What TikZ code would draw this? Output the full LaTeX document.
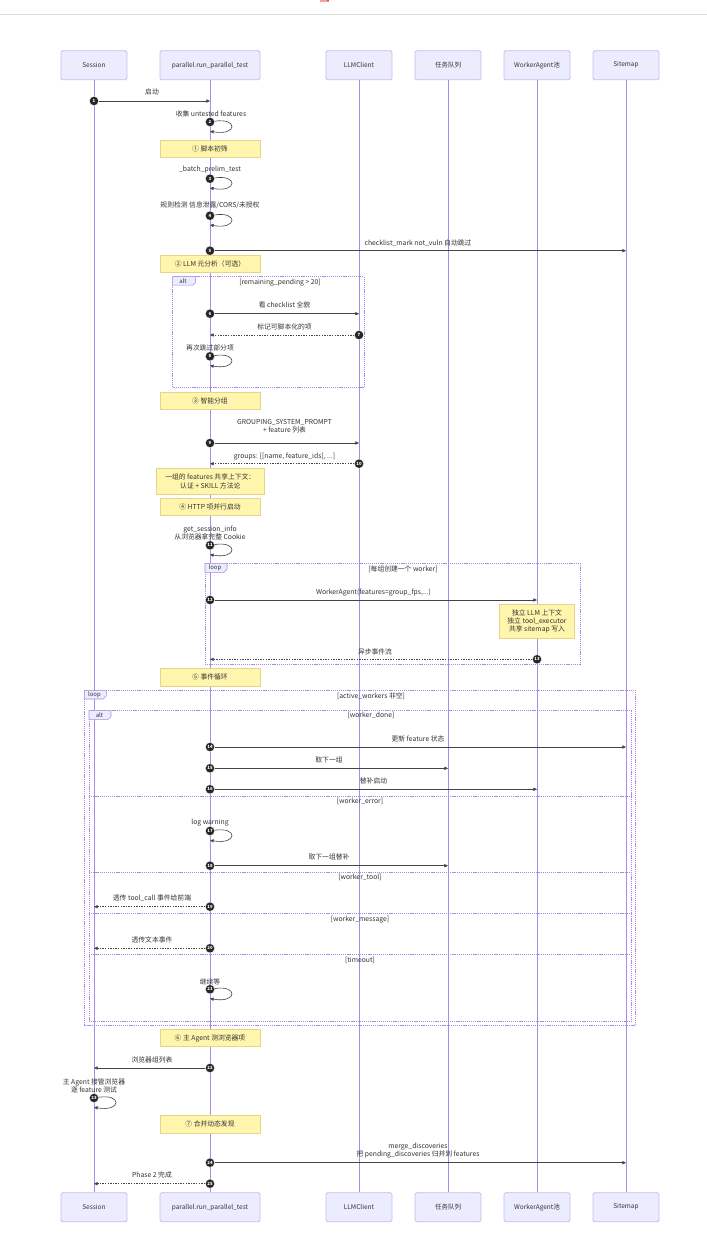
\documentclass[tikz,border=0pt]{standalone}
\usepackage{fontspec}
\setmainfont{Noto Sans CJK SC}
\usetikzlibrary{arrows.meta}
\definecolor{txt}{HTML}{333333}
\definecolor{actfill}{HTML}{ECECFF}
\definecolor{actdraw}{HTML}{C9B9F2}
\definecolor{lifec}{HTML}{A88BEB}
\definecolor{notefill}{HTML}{FFF5AD}
\definecolor{notedraw}{HTML}{E3D688}
\definecolor{framec}{HTML}{A68CE8}
\definecolor{msgc}{HTML}{444444}
\definecolor{topline}{HTML}{DDDDDD}
\definecolor{redmark}{HTML}{F2A0A0}
\definecolor{redmarkd}{HTML}{E04848}
\tikzset{
  lbl/.style={text=txt, font=\fontsize{6.8}{8.4}\selectfont, inner sep=0pt, align=center},
  actor/.style={draw=actdraw, fill=actfill, line width=0.8pt, rounded corners=1.5pt,
    minimum height=29pt, text=txt, font=\fontsize{6.5}{8}\selectfont, inner sep=0pt},
  life/.style={draw=lifec, line width=0.9pt},
  notebox/.style={draw=notedraw, fill=notefill, line width=0.7pt, text=txt,
    font=\fontsize{6.8}{8.4}\selectfont, align=center, inner sep=0pt},
  numc/.style={circle, fill=black!85, draw=white, line width=0.3pt, minimum size=9.2pt, inner sep=0pt,
    text=white, font=\fontsize{4.3}{4.3}\selectfont\bfseries},
  msg/.style={draw=msgc, line width=0.6pt, -{Triangle[length=3.6pt,width=3.2pt]}},
  dmsg/.style={msg, dash pattern=on 1.4pt off 1.2pt},
  frame/.style={draw=framec, line width=0.55pt, dash pattern=on 1.2pt off 0.9pt},
  tab/.style={draw=framec, fill=actfill, line width=0.55pt},
  tabtxt/.style={text=txt, font=\fontsize{6}{7}\selectfont, inner sep=0pt},
}
\begin{document}
\begin{tikzpicture}[x=1pt,y=-1pt]
\useasboundingbox (0,0) rectangle (707,1251);
\fill[white] (0,0) rectangle (707,1251);
% screenshot top rule and mark
\draw[topline, line width=0.8pt] (0,14.3) -- (707,14.3);
\fill[redmark] (320,0) rectangle (329,2.2);
\fill[redmarkd] (327,0) rectangle (329,1.2);

% actors
\node[actor, minimum width=66pt]  (sT) at (94,65.2) {Session};
\node[actor, minimum width=100pt] (pT) at (210,65.2) {parallel.run\_parallel\_test};
\node[actor, minimum width=66pt]  (lT) at (359,65.2) {LLMClient};
\node[actor, minimum width=66pt]  (qT) at (448,65.2) {任务队列};
\node[actor, minimum width=66pt]  (wT) at (537,65.2) {WorkerAgent池};
\node[actor, minimum width=66pt]  (mT) at (626,65.2) {Sitemap};
\node[actor, minimum width=66pt]  (sB) at (94,1207.2) {Session};
\node[actor, minimum width=100pt] (pB) at (210,1207.2) {parallel.run\_parallel\_test};
\node[actor, minimum width=66pt]  (lB) at (359,1207.2) {LLMClient};
\node[actor, minimum width=66pt]  (qB) at (448,1207.2) {任务队列};
\node[actor, minimum width=66pt]  (wB) at (537,1207.2) {WorkerAgent池};
\node[actor, minimum width=66pt]  (mB) at (626,1207.2) {Sitemap};
\draw[life] (sT.south) -- (sB.north);
\draw[life] (pT.south) -- (pB.north);
\draw[life] (lT.south) -- (lB.north);
\draw[life] (qT.south) -- (qB.north);
\draw[life] (wT.south) -- (wB.north);
\draw[life] (mT.south) -- (mB.north);

% frames
\draw[frame] (172.7,276.7) rectangle (364.3,387.3);
\draw[tab] (172.7,276.7) -- (195.7,276.7) -- (195.7,282.2) -- (192.7,285.2) -- (172.7,285.2) -- cycle;
\node[tabtxt] (altA) at (183,281) {alt};
\node[lbl] (condA) at (280,282.7) {[remaining\_pending > 20]};

\draw[frame] (205,563.3) rectangle (580,664);
\draw[tab] (205,563.3) -- (227,563.3) -- (227,569.3) -- (224,572.3) -- (205,572.3) -- cycle;
\node[tabtxt] (loopA) at (215,567.8) {loop};
\node[lbl] (condB) at (403,569) {[每组创建一个 worker]};

\draw[frame] (84.3,690.3) rectangle (635.3,1025.3);
\draw[tab] (84.3,690.3) -- (106.3,690.3) -- (106.3,696) -- (103.3,699) -- (84.3,699) -- cycle;
\node[tabtxt] (loopB) at (94.5,694.6) {loop};
\node[lbl] (condC) at (371,695.7) {[active\_workers 非空]};

\draw[frame] (89,710.7) rectangle (631.3,1021.7);
\draw[tab] (89,710.7) -- (111,710.7) -- (111,716.4) -- (108,719.4) -- (89,719.4) -- cycle;
\node[tabtxt] (altB) at (99.5,715) {alt};
\node[lbl] (condD) at (371,715.3) {[worker\_done]};
\draw[frame] (89,796.3) -- (631.3,796.3);
\node[lbl] (condE) at (360,801.3) {[worker\_error]};
\draw[frame] (89,872.3) -- (631.3,872.3);
\node[lbl] (condF) at (360,877.3) {[worker\_tool]};
\draw[frame] (89,913.3) -- (631.3,913.3);
\node[lbl] (condG) at (360,920) {[worker\_message]};
\draw[frame] (89,954.7) -- (631.3,954.7);
\node[lbl] (condH) at (360,960.3) {[timeout]};

% notes
\node[notebox, minimum width=100pt, minimum height=17.3pt] (n1) at (210,148.7) {① 脚本初筛};
\node[notebox, minimum width=100pt, minimum height=17.3pt] (n2) at (210,263.7) {② LLM 元分析（可选）};
\node[notebox, minimum width=100pt, minimum height=17.3pt] (n3) at (210,400.7) {③ 智能分组};
\node[notebox, minimum width=107.3pt, minimum height=25.3pt] (n3b) at (210.3,481.3) {一组的 features 共享上下文：\\认证 + SKILL 方法论};
\node[notebox, minimum width=100pt, minimum height=17.3pt] (n4) at (210,507) {④ HTTP 项并行启动};
\node[notebox, minimum width=75.4pt, minimum height=34pt] (n4b) at (537,621.3) {独立 LLM 上下文\\独立 tool\_executor\\共享 sitemap 写入};
\node[notebox, minimum width=100pt, minimum height=17.3pt] (n5) at (210,677.3) {⑤ 事件循环};
\node[notebox, minimum width=100pt, minimum height=17.3pt] (n6) at (210,1038) {⑥ 主 Agent 测浏览器项};
\node[notebox, minimum width=100pt, minimum height=17.3pt] (n7) at (210,1124.3) {⑦ 合并动态发现};

% message end points
\coordinate (e1) at (210,101);
\coordinate (e2) at (210,131.3);
\coordinate (e3) at (210,188);
\coordinate (e4) at (210,225);
\coordinate (e5) at (626,250.7);
\coordinate (e6) at (359,313.7);
\coordinate (e7) at (210,335);
\coordinate (e8) at (210,365.6);
\coordinate (e9) at (359,443);
\coordinate (e10) at (210,463.7);
\coordinate (e11) at (210,554.6);
\coordinate (e12) at (537,600);
\coordinate (e13) at (210,659.3);
\coordinate (e14) at (626,747);
\coordinate (e15) at (448,768.3);
\coordinate (e16) at (537,789.3);
\coordinate (e17) at (210,840.3);
\coordinate (e18) at (448,865.7);
\coordinate (e19) at (94,906.7);
\coordinate (e20) at (94,948.3);
\coordinate (e21) at (210,998.6);
\coordinate (e22) at (94,1068);
\coordinate (e23) at (94,1107.3);
\coordinate (e24) at (626,1162.7);
\coordinate (e25) at (94,1183.7);

% number circles
\node[numc] (c1) at (94,101) {1};
\node[numc] (c2) at (210,122) {2};
\node[numc] (c3) at (210,178.7) {3};
\node[numc] (c4) at (210,215.7) {4};
\node[numc] (c5) at (210,250.7) {5};
\node[numc] (c6) at (210,313.7) {6};
\node[numc] (c7) at (359,335) {7};
\node[numc] (c8) at (210,356.3) {8};
\node[numc] (c9) at (210,443) {9};
\node[numc] (c10) at (359,463.7) {10};
\node[numc] (c11) at (210,545.3) {11};
\node[numc] (c12) at (210,600) {12};
\node[numc] (c13) at (537,659.3) {13};
\node[numc] (c14) at (210,747) {14};
\node[numc] (c15) at (210,768.3) {15};
\node[numc] (c16) at (210,789.3) {16};
\node[numc] (c17) at (210,831) {17};
\node[numc] (c18) at (210,865.7) {18};
\node[numc] (c19) at (210,906.7) {19};
\node[numc] (c20) at (210,948.3) {20};
\node[numc] (c21) at (210,989.3) {21};
\node[numc] (c22) at (210,1068) {22};
\node[numc] (c23) at (94,1098) {23};
\node[numc] (c24) at (210,1162.7) {24};
\node[numc] (c25) at (210,1183.7) {25};

% messages
\draw[msg] (c1) -- (e1);
\draw[msg] (c2) .. controls +(28,-4.5) and +(28,4.7) .. (e2);
\draw[msg] (c3) .. controls +(28,-4.5) and +(28,4.7) .. (e3);
\draw[msg] (c4) .. controls +(28,-4.5) and +(28,4.7) .. (e4);
\draw[msg] (c5) -- (e5);
\draw[msg] (c6) -- (e6);
\draw[dmsg] (c7) -- (e7);
\draw[msg] (c8) .. controls +(28,-4.5) and +(28,4.7) .. (e8);
\draw[msg] (c9) -- (e9);
\draw[dmsg] (c10) -- (e10);
\draw[msg] (c11) .. controls +(28,-4.5) and +(28,4.7) .. (e11);
\draw[msg] (c12) -- (e12);
\draw[dmsg] (c13) -- (e13);
\draw[msg] (c14) -- (e14);
\draw[msg] (c15) -- (e15);
\draw[msg] (c16) -- (e16);
\draw[msg] (c17) .. controls +(28,-4.5) and +(28,4.7) .. (e17);
\draw[msg] (c18) -- (e18);
\draw[dmsg] (c19) -- (e19);
\draw[dmsg] (c20) -- (e20);
\draw[msg] (c21) .. controls +(28,-4.5) and +(28,4.7) .. (e21);
\draw[msg] (c22) -- (e22);
\draw[msg] (c23) .. controls +(28,-4.5) and +(28,4.7) .. (e23);
\draw[msg] (c24) -- (e24);
\draw[dmsg] (c25) -- (e25);

% message labels
\node[lbl] (t1) at (152,92) {启动};
\node[lbl] (t2) at (211,114.3) {收集 untested features};
\node[lbl] (t3) at (210,170) {\_batch\_prelim\_test};
\node[lbl] (t4) at (210,205.3) {规则检测 信息泄露/CORS/未授权};
\node[lbl] (t5) at (418,242.7) {checklist\_mark not\_vuln 自动跳过};
\node[lbl] (t6) at (284.5,305) {看 checklist 全貌};
\node[lbl] (t7) at (284.5,326.7) {标记可脚本化的项};
\node[lbl] (t8) at (210,348.3) {再次跳过部分项};
\node[lbl] (t9) at (284.5,426.5) {GROUPING\_SYSTEM\_PROMPT\\+ feature 列表};
\node[lbl] (t10) at (284.5,456.7) {groups: [[name, feature\_ids], ...]};
\node[lbl] (t11) at (210,533.2) {get\_session\_info\\从浏览器拿完整 Cookie};
\node[lbl] (t12) at (373.5,592.3) {WorkerAgent(features=group\_fps,...)};
\node[lbl] (t13) at (375,651.7) {异步事件流};
\node[lbl] (t14) at (418,739.3) {更新 feature 状态};
\node[lbl] (t15) at (329,760.3) {取下一组};
\node[lbl] (t16) at (373.5,781.3) {替补启动};
\node[lbl] (t17) at (210,822.7) {log warning};
\node[lbl] (t18) at (329,857.3) {取下一组替补};
\node[lbl] (t19) at (152,898.3) {透传 tool\_call 事件给前端};
\node[lbl] (t20) at (152,940.3) {透传文本事件};
\node[lbl] (t21) at (210,981.7) {继续等};
\node[lbl] (t22) at (152,1060.3) {浏览器组列表};
\node[lbl] (t23) at (94,1085.7) {主 Agent 接管浏览器\\逐 feature 测试};
\node[lbl] (t24) at (418,1150.5) {merge\_discoveries\\把 pending\_discoveries 归并到 features};
\node[lbl] (t25) at (152,1175.3) {Phase 2 完成};
\end{tikzpicture}
\end{document}
